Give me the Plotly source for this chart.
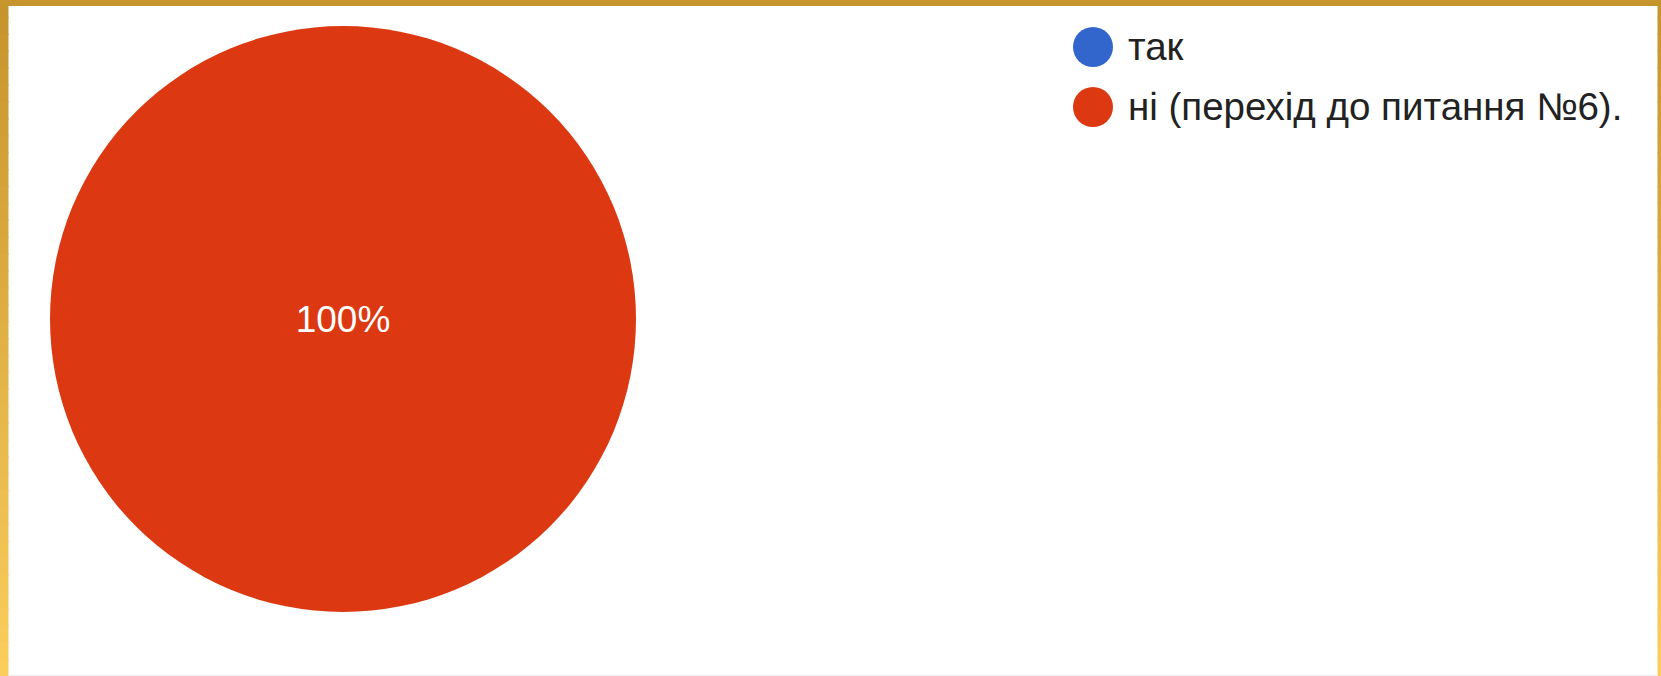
import plotly.graph_objects as go

# ---- data ----
labels = ["так", "ні (перехід до питання №6)."]
values = [0, 100]
colors = ["#3366CC", "#DC3912"]

W, H = 1661, 676

total = sum(values)
slice_text = [f"{v / total:.0%}" if v else "" for v in values]

fig = go.Figure()
fig.add_trace(go.Pie(
    labels=labels,
    values=values,
    text=slice_text,
    textinfo="text",
    textposition="inside",
    insidetextorientation="horizontal",
    textfont=dict(family="Arial, Liberation Sans, sans-serif", size=37, color="white"),
    marker=dict(colors=colors, line=dict(width=0)),
    sort=False,
    direction="clockwise",
    showlegend=False,
    hoverinfo="label+percent",
    domain=dict(x=[(343 - 293) / W, (343 + 293) / W],
                y=[(H - 319 - 293) / H, (H - 319 + 293) / H]),
))

shapes = []
annotations = []

# custom legend with round markers
leg_x, leg_y0, leg_dy, r = 1093, 47, 60, 20
for i, (lab, col) in enumerate(zip(labels, colors)):
    cy = leg_y0 + i * leg_dy
    shapes.append(dict(type="circle", xref="paper", yref="paper",
                       x0=(leg_x - r) / W, x1=(leg_x + r) / W,
                       y0=1 - (cy + r) / H, y1=1 - (cy - r) / H,
                       fillcolor=col, line=dict(width=0)))
    annotations.append(dict(xref="paper", yref="paper", x=1126 / W, y=1 - cy / H,
                            xanchor="left", yanchor="middle", showarrow=False,
                            text=lab,
                            font=dict(family="Arial, Liberation Sans, sans-serif",
                                      size=38.5, color="#222222")))

# gold frame
def lerp(c1, c2, t):
    a = [int(c1[i:i + 2], 16) for i in (1, 3, 5)]
    b = [int(c2[i:i + 2], 16) for i in (1, 3, 5)]
    return "#" + "".join(f"{round(x + (y - x) * t):02x}" for x, y in zip(a, b))

top_c, bot_c = "#C6942C", "#FACD5C"
n = 40
for k in range(n):
    t = k / (n - 1)
    c = lerp(top_c, bot_c, t)
    y1 = 1 - k / n
    y0 = 1 - (k + 1) / n - 0.002
    shapes.append(dict(type="rect", xref="paper", yref="paper", x0=0, x1=8.5 / W,
                       y0=max(y0, 0), y1=y1, fillcolor=c, line=dict(width=0), layer="above"))
    shapes.append(dict(type="rect", xref="paper", yref="paper", x0=1 - 3.5 / W, x1=1,
                       y0=max(y0, 0), y1=y1, fillcolor=c, line=dict(width=0), layer="above"))
shapes.append(dict(type="rect", xref="paper", yref="paper", x0=0, x1=1,
                   y0=1 - 6 / H, y1=1, fillcolor="#C6952D", line=dict(width=0), layer="above"))
shapes.append(dict(type="rect", xref="paper", yref="paper", x0=8.5 / W, x1=1 - 3.5 / W,
                   y0=0, y1=1.5 / H, fillcolor="#F1F1F4", line=dict(width=0), layer="above"))

fig.update_layout(
    width=W, height=H,
    margin=dict(l=0, r=0, t=0, b=0),
    paper_bgcolor="white",
    plot_bgcolor="white",
    shapes=shapes,
    annotations=annotations,
)

fig.write_html("out.html",
               config={"displayModeBar": False},
               post_script="document.body.style.margin='0';document.body.style.overflow='hidden';")
